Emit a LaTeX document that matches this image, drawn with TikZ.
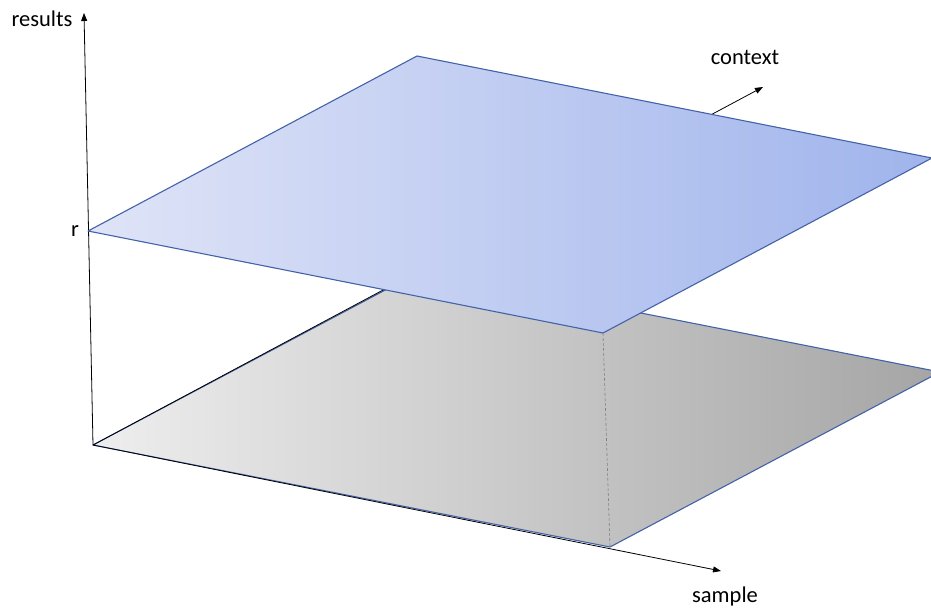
\documentclass[tikz,border=0pt]{standalone}
\usepackage{fontspec}
\setmainfont{Carlito}
\usetikzlibrary{arrows.meta}
\definecolor{planeedge}{RGB}{68,98,168}
\definecolor{blueleft}{RGB}{223,228,247}
\definecolor{blueright}{RGB}{160,180,236}
\definecolor{greyleft}{RGB}{238,238,238}
\definecolor{greyright}{RGB}{165,165,165}
\begin{document}
\begin{tikzpicture}[x=1pt,y=-1pt,every node/.style={font=\fontsize{22.5}{27}\selectfont,inner sep=0pt,anchor=base},axis/.style={-{Triangle[length=8pt,width=6pt]},line width=0.8pt,draw=black},edge/.style={draw=planeedge,line width=1.1pt,line join=round},ground/.style={left color=greyleft,right color=greyright},level/.style={left color=blueleft,right color=blueright}]
\useasboundingbox (0,0) rectangle (931,611);
% corners of the lower plane
\coordinate (o) at (93,445);
\coordinate (gfront) at (610,547);
\coordinate (gright) at (940,372);
\coordinate (gback) at (423,270);
% corners of the upper plane
\coordinate (bleft) at (88,231);
\coordinate (bfront) at (603,333);
\coordinate (bright) at (932,158);
\coordinate (bback) at (417,56);
% axis ends
\coordinate (ytip) at (84,13);
\coordinate (xtip) at (721,571);
\coordinate (ztip) at (763,87);
\path[ground,edge] (o)--(gfront)--(gright)--(gback)--cycle;
\draw[gray,dashed,dash pattern=on 3pt off 2pt,line width=0.6pt] (bfront)--(gfront);
\draw[axis] (o)--(ytip);
\draw[axis] (o)--(xtip);
\draw[axis] (o)--(ztip);
\path[level,edge] (bleft)--(bfront)--(bright)--(bback)--cycle;
\node (results) at (42,26) {results};
\node (rlabel) at (75,236) {r};
\node (context) at (745,64) {context};
\node (sample) at (725,602) {sample};
\end{tikzpicture}
\end{document}
